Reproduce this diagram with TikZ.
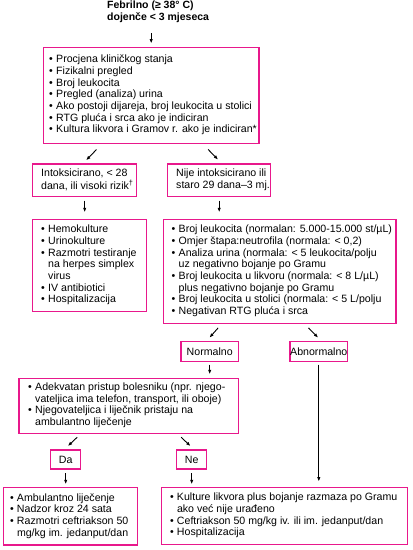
\documentclass[tikz,border=0pt]{standalone}
\usepackage{fontspec}
\setmainfont{Liberation Sans}
\usetikzlibrary{arrows.meta,calc}
\definecolor{pinkb}{RGB}{232,24,140}
\newcommand\bl{\makebox[7pt][l]{•}}
\newcommand\ind{\hspace*{7pt}}
\newcommand\lns[2]{\makebox[#1][l]{\begin{tabular}{@{}l@{}}#2\end{tabular}}}
\tikzset{
  box/.style={draw=pinkb, line width=1.4pt, inner ysep=0pt, inner xsep=7.5pt,
    font=\fontsize{10.6}{11.7}\selectfont, anchor=center},
  cbox/.style={draw=pinkb, line width=1.4pt, inner sep=0pt, align=center,
    font=\fontsize{10.6}{11.7}\selectfont, anchor=center},
  arr/.style={line width=0.9pt, -{Latex[length=4.5pt,width=3.4pt]}}
}
\begin{document}
\begin{tikzpicture}[x=1pt,y=-1pt]
\useasboundingbox (0,0) rectangle (413,550);
\fill[white] (0,0) rectangle (413,550);
\node[anchor=north west, inner sep=0pt, align=left, font=\fontsize{10.5}{11.2}\selectfont\bfseries] (title) at (107,1)
  {Febrilno (≥ 38° C)\\dojenče < 3 mjeseca};
\node[box, inner xsep=5.5pt, minimum width=215.7pt, minimum height=95.6pt] (b1) at (151.2,95.5)
  {\lns{204pt}{\bl Procjena kliničkog stanja\\\bl Fizikalni pregled\\\bl Broj leukocita\\\bl Pregled (analiza) urina\\\bl Ako postoji dijareja, broj leukocita u stolici\\\bl RTG pluća i srca ako je indiciran\\\bl Kultura likvora i Gramov r. ako je indiciran*}};
\node[box, inner xsep=8pt, minimum width=104pt, minimum height=32.7pt] (b2) at (84.7,180.3)
  {\lns{87pt}{Intoksicirano, < 28\\dana, ili visoki rizik\textsuperscript{†}}};
\node[box, inner xsep=8pt, minimum width=103pt, minimum height=32.7pt] (b3) at (219.2,180.3)
  {\lns{86pt}{Nije intoksicirano ili\\staro 29 dana–3 mj.}};
\node[box, inner xsep=8pt, minimum width=114pt, minimum height=92.4pt] (b4) at (89.7,265.5)
  {\lns{97pt}{\bl Hemokulture\\\bl Urinokulture\\\bl Razmotri testiranje\\\ind na herpes simplex\\\ind virus\\\bl IV antibiotici\\\bl Hospitalizacija}};
\node[box, inner xsep=7.5pt, minimum width=232.7pt, minimum height=104pt] (b5) at (279.7,271.3)
  {\lns{216pt}{\bl Broj leukocita (normalan: 5.000-15.000 st/µL)\\\bl Omjer štapa:neutrofila (normala: < 0,2)\\\bl Analiza urina (normala: < 5 leukocita/polju\\\ind uz negativno bojanje po Gramu\\\bl Broj leukocita u likvoru (normala: < 8 L/µL)\\\ind plus negativno bojanje po Gramu\\\bl Broj leukocita u stolici (normala: < 5 L/polju\\\bl Negativan RTG pluća i srca}};
\node[cbox, minimum width=57.3pt, minimum height=20pt] (nor) at (209.7,351.7) {Normalno};
\node[cbox, minimum width=57.7pt, minimum height=20pt] (abn) at (318.8,351.7) {Abnormalno};
\node[box, inner xsep=8.5pt, minimum width=219.3pt, minimum height=55pt] (b6) at (128.7,405.8)
  {\lns{201pt}{\bl Adekvatan pristup bolesniku (npr. njego-\\\ind vateljica ima telefon, transport, ili oboje)\\\bl Njegovateljica i liječnik pristaju na\\\ind ambulantno liječenje}};
\node[cbox, minimum width=30pt, minimum height=19pt] (da) at (65.7,459.5) {Da};
\node[cbox, minimum width=30pt, minimum height=19pt] (ne) at (191.7,459.5) {Ne};
\node[box, inner xsep=6pt, minimum width=134.4pt, minimum height=57.3pt] (b7) at (70.5,516.3)
  {\lns{121pt}{\bl Ambulantno liječenje\\\bl Nadzor kroz 24 sata\\\bl Razmotri ceftriakson 50\\\ind mg/kg im. jedanput/dan}};
\node[box, inner xsep=7.5pt, minimum width=245.6pt, minimum height=56.6pt] (b8) at (284.5,516)
  {\lns{229pt}{\bl Kulture likvora plus bojanje razmaza po Gramu\\\ind ako već nije urađeno\\\bl Ceftriakson 50 mg/kg iv. ili im. jedanput/dan\\\bl Hospitalizacija}};
% connectors
\draw[arr, shorten <=11pt, shorten >=3.5pt] (title.south -| b1.north) -- (b1.north);
\draw[arr, shorten <=7.7pt, shorten >=4pt] ([xshift=-49.4pt]b1.south) -- ([xshift=-1.4pt]b2.north);
\draw[arr, shorten <=7.7pt, shorten >=5pt] ([xshift=51.6pt]b1.south) -- ([xshift=2.4pt]b3.north);
\draw[arr, shorten <=3.3pt, shorten >=6.3pt] (b2.south) -- (b2.south |- b4.north);
\draw[arr, shorten <=3.3pt, shorten >=6.3pt] (b3.south) -- (b3.south |- b5.north);
\draw[arr, shorten <=5.2pt, shorten >=4.4pt] ([xshift=-58.1pt]b5.south) -- ([xshift=-3.2pt]nor.north);
\draw[arr, shorten <=5.4pt, shorten >=4.6pt] ([xshift=25pt]b5.south) -- ([xshift=2.6pt]abn.north);
\draw[arr, shorten <=2.3pt, shorten >=3.3pt] (nor.south) -- (nor.south |- b6.north);
\draw[arr, shorten <=2.3pt, shorten >=5.4pt] (abn.south) -- (abn.south |- b8.north);
\draw[arr, shorten <=4.7pt, shorten >=4.6pt] ([xshift=-48.1pt]b6.south) -- ([xshift=-1.2pt]da.north);
\draw[arr, shorten <=4.7pt, shorten >=4.6pt] ([xshift=49pt]b6.south) -- ([xshift=2.2pt]ne.north);
\draw[arr, shorten <=3.7pt, shorten >=2.7pt] (da.south) -- (da.south |- b7.north);
\draw[arr, shorten <=3.7pt, shorten >=2.7pt] (ne.south) -- (ne.south |- b8.north);
\end{tikzpicture}
\end{document}
